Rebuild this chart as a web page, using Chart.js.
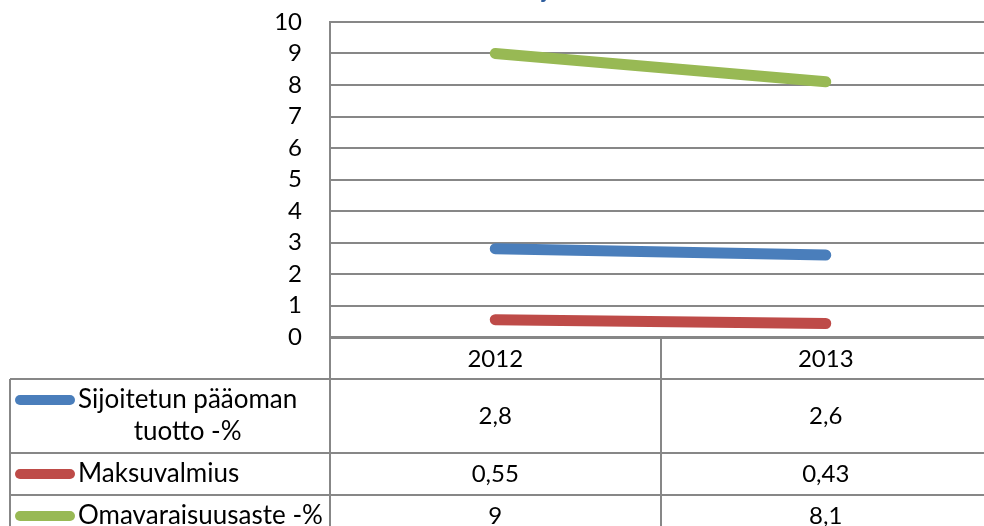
<!DOCTYPE html>
<html>
<head>
<meta charset="utf-8">
<script src="https://cdn.jsdelivr.net/npm/chart.js@4/dist/chart.umd.min.js"></script>
<style>
  html, body { margin: 0; padding: 0; overflow: hidden; background: #ffffff; }
  canvas { display: block; }
</style>
</head>
<body>
<canvas id="chart" width="991" height="526" style="width:991px;height:526px"></canvas>
<script>
// Years shown along the category axis
const categories = ['2012', '2013'];

// Key figures per year
const seriesNames = ['Sijoitetun pääoman tuotto -%', 'Maksuvalmius', 'Omavaraisuusaste -%'];
const sijoitetunPaaomanTuotto = [2.8, 2.6];
const maksuvalmius = [0.55, 0.43];
const omavaraisuusaste = [9, 8.1];

// Value axis range
const yMin = 0;
const yMax = 10;
const yStep = 1;

const chartTitle = 'Tunnuslukujen muutos';

const seriesColors = ['#4A7EBB', '#BE4B48', '#98B954'];
const gridColor = '#878787';
const FONT = 'Lato, "Open Sans", sans-serif';
const TEXT_SIZE = 26;   // series names
const NUM_SIZE = 24;    // numbers: ticks, years, table values

const seriesValues = [sijoitetunPaaomanTuotto, maksuvalmius, omavaraisuusaste];

// Finnish decimal comma for the table cells
const fmt = v => String(v).replace('.', ',');

function wrapText(ctx, text, maxWidth) {
  const words = text.split(' ');
  const lines = [];
  let cur = '';
  for (const w of words) {
    const test = cur ? cur + ' ' + w : w;
    if (ctx.measureText(test).width > maxWidth && cur) {
      lines.push(cur);
      cur = w;
    } else {
      cur = test;
    }
  }
  if (cur) lines.push(cur);
  return lines;
}

// Draws the chart title (mostly above the canvas edge) and the data table under the plot
const dataTablePlugin = {
  id: 'dataTable',
  afterDraw(chart) {
    const { ctx, chartArea, scales: { x } } = chart;
    const W = chart.width;
    const tableLeft = 10;
    const headerH = 42;
    const singleRowH = 42;
    const lineH = 32;
    const swatchX0 = 20, swatchX1 = 70;
    const textX = 78;
    const wrapWidth = 254;

    ctx.save();

    // title
    ctx.font = 'bold 22px ' + FONT;
    ctx.fillStyle = '#2F5E9E';
    ctx.textBaseline = 'alphabetic';
    ctx.textAlign = 'left';
    const jIdx = chartTitle.indexOf('j');
    const preW = ctx.measureText(chartTitle.slice(0, jIdx)).width;
    ctx.fillText(chartTitle, 542 - preW, -2);

    ctx.font = TEXT_SIZE + 'px ' + FONT;
    ctx.fillStyle = '#000000';

    // row geometry
    const rows = seriesNames.map(n => wrapText(ctx, n, wrapWidth));
    const top0 = chartArea.bottom;
    const headerBottom = top0 + headerH;
    const rowTops = [];
    let y = headerBottom;
    rows.forEach(lines => {
      rowTops.push(y);
      y += singleRowH + (lines.length - 1) * lineH;
    });
    const tableBottom = y;

    // column boundaries from the category scale
    const half = (x.getPixelForValue(1) - x.getPixelForValue(0)) / 2;
    const colEdges = [x.getPixelForValue(0) - half];
    categories.forEach((c, i) => colEdges.push(x.getPixelForValue(i) + half));

    ctx.strokeStyle = gridColor;
    ctx.lineWidth = 2;
    ctx.beginPath();
    colEdges.forEach(cx => {
      const px = Math.round(cx);
      ctx.moveTo(px, top0);
      ctx.lineTo(px, tableBottom);
    });
    ctx.moveTo(tableLeft, headerBottom);
    ctx.lineTo(tableLeft, tableBottom);
    [headerBottom, ...rowTops.slice(1), tableBottom].forEach(ry => {
      ctx.moveTo(tableLeft, ry);
      ctx.lineTo(W + 10, ry);
    });
    ctx.stroke();

    // header labels
    ctx.textAlign = 'center';
    ctx.textBaseline = 'middle';
    ctx.font = NUM_SIZE + 'px ' + FONT;
    categories.forEach((c, i) => {
      ctx.fillText(c, x.getPixelForValue(i), top0 + headerH / 2 + 1);
    });

    // rows
    rows.forEach((lines, r) => {
      const rh = singleRowH + (lines.length - 1) * lineH;
      const rc = rowTops[r] + rh / 2;
      const firstY = rc - (lines.length - 1) * lineH / 2;

      // legend key
      ctx.strokeStyle = seriesColors[r];
      ctx.lineWidth = 10;
      ctx.lineCap = 'round';
      ctx.beginPath();
      ctx.moveTo(swatchX0, firstY);
      ctx.lineTo(swatchX1, firstY);
      ctx.stroke();

      // series name
      ctx.font = TEXT_SIZE + 'px ' + FONT;
      const blockW = Math.max(...lines.map(l => ctx.measureText(l).width));
      ctx.textAlign = 'center';
      lines.forEach((l, k) => {
        ctx.fillText(l, textX + blockW / 2, firstY + k * lineH);
      });

      // values
      ctx.font = NUM_SIZE + 'px ' + FONT;
      seriesValues[r].forEach((v, i) => {
        ctx.fillText(fmt(v), x.getPixelForValue(i), rc);
      });
    });

    ctx.restore();
  }
};

const datasets = seriesNames.map((name, i) => ({
  label: name,
  data: seriesValues[i],
  borderColor: seriesColors[i],
  backgroundColor: seriesColors[i],
  borderWidth: 11,
  borderCapStyle: 'round',
  borderJoinStyle: 'round',
  pointRadius: 0,
  pointHoverRadius: 0,
  tension: 0,
  fill: false
}));

new Chart(document.getElementById('chart'), {
  type: 'line',
  data: { labels: categories, datasets },
  options: {
    responsive: false,
    animation: false,
    events: [],
    layout: { padding: { top: 22, left: 0, right: 0, bottom: 0 } },
    plugins: {
      legend: { display: false },
      title: { display: false },
      tooltip: { enabled: false }
    },
    scales: {
      x: {
        type: 'category',
        offset: true,
        grid: { display: false, drawTicks: false },
        border: { display: false },
        ticks: { display: false },
        afterFit(scale) { scale.height = 189; }
      },
      y: {
        min: yMin,
        max: yMax,
        ticks: {
          stepSize: yStep,
          autoSkip: false,
          color: '#000000',
          font: { family: FONT, size: NUM_SIZE },
          padding: 28
        },
        grid: {
          color: gridColor,
          lineWidth: ctx => (ctx.tick && ctx.tick.value === 0 ? 3 : 2),
          drawTicks: false
        },
        border: { display: true, color: gridColor, width: 2 },
        afterFit(scale) {
          scale.width = 330;
          scale.paddingTop = 0;
          scale.paddingBottom = 0;
        }
      }
    }
  },
  plugins: [dataTablePlugin]
});
</script>
</body>
</html>
